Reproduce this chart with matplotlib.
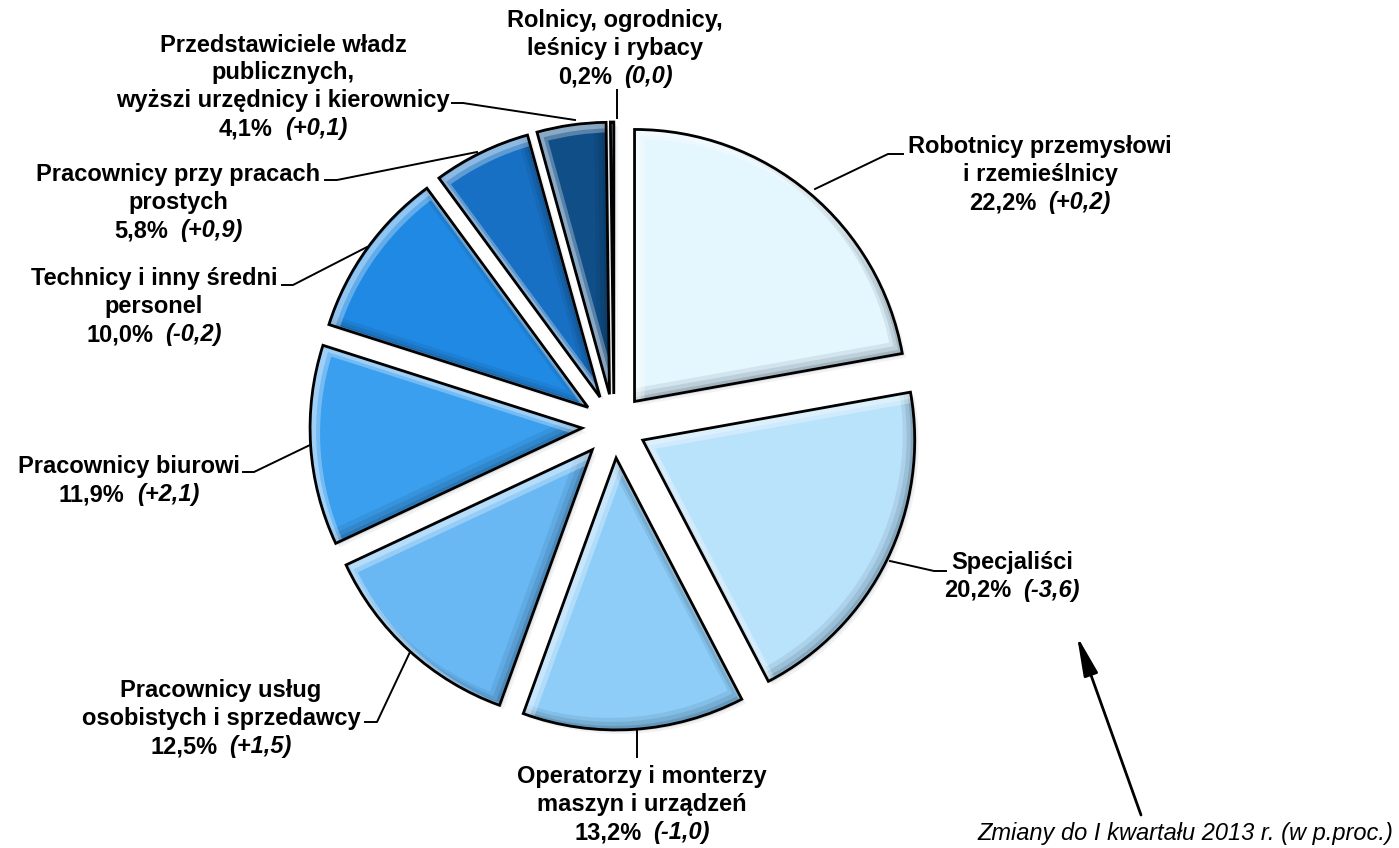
import matplotlib
matplotlib.use("Agg")
import matplotlib.pyplot as plt
import matplotlib.patches as mpatches

# dane: struktura pracujących wg grup zawodów (%), zmiany w p.proc.
categories = [
    "Robotnicy przemysłowi\ni rzemieślnicy",
    "Specjaliści",
    "Operatorzy i monterzy\nmaszyn i urządzeń",
    "Pracownicy usług\nosobistych i sprzedawcy",
    "Pracownicy biurowi",
    "Technicy i inny średni\npersonel",
    "Pracownicy przy pracach\nprostych",
    "Przedstawiciele władz\npublicznych,\nwyższi urzędnicy i kierownicy",
    "Rolnicy, ogrodnicy,\nleśnicy i rybacy",
]
shares = [22.2, 20.2, 13.2, 12.5, 11.9, 10.0, 5.8, 4.1, 0.2]
changes = [0.2, -3.6, -1.0, 1.5, 2.1, -0.2, 0.9, 0.1, 0.0]
colors = ["#E4F6FE", "#B9E2FB", "#8ECDF8", "#69B8F4", "#3A9FEF",
          "#1F89E3", "#1870C4", "#0F4E87", "#0E4A80"]
note = "Zmiany do I kwartału 2013 r. (w p.proc.)"

W, H = 1399, 848
plt.rcParams['font.family'] = ['Liberation Sans', 'DejaVu Sans']

fig = plt.figure(figsize=(W / 100, H / 100), dpi=100)
ax = fig.add_axes([0, 0, 1, 1])

CX, CY, R = 614, H - 426, 272
wedges, _ = ax.pie(shares, startangle=90, counterclock=False, radius=R,
                   center=(CX, CY), explode=[32] * len(shares), colors=colors,
                   wedgeprops=dict(edgecolor='none', linewidth=0))
ax.set_xlim(0, W)
ax.set_ylim(0, H)
ax.set_aspect('equal')
ax.axis('off')

# cień pod wycinkami
for w in wedges:
    for d, a in [(4, 0.06), (2, 0.10)]:
        s = mpatches.Wedge((w.center[0] + d, w.center[1] - d), w.r, w.theta1, w.theta2,
                           fc='#203040', ec='none', alpha=a, zorder=0.5)
        ax.add_patch(s)
    w.set_zorder(1)

# efekt fazowania (jasny pasek u góry, ciemny gradient u dołu)
for w in wedges:
    x0, y0 = w.center
    for d, a in [(6, 0.08), (4, 0.10), (2, 0.14)]:
        dark = mpatches.Wedge((x0 - d, y0 + d), w.r, w.theta1, w.theta2,
                              fc='none', ec='#0a1a2a', lw=2 * d * 0.72, alpha=a, zorder=1.2)
        ax.add_patch(dark)
        dark.set_clip_path(w)
    for d, a in [(5, 0.30), (3, 0.30)]:
        light = mpatches.Wedge((x0 + d, y0 - d), w.r, w.theta1, w.theta2,
                               fc='none', ec='white', lw=2 * d * 0.72, alpha=a, zorder=1.3)
        ax.add_patch(light)
        light.set_clip_path(w)
    edge = mpatches.Wedge(w.center, w.r, w.theta1, w.theta2, fc='none',
                          ec='black', lw=2.0, zorder=1.5)
    ax.add_patch(edge)

# etykiety
FS = 17
LINE = 28
renderer = fig.canvas.get_renderer()

label_pos = [(1040, 145), (1012, 560), (642, 775), (221, 689), (129, 465),
             (154, 277), (178, 173), (283, 43), (615, 19)]


def fmt(v):
    return f"{v:.1f}".replace('.', ',')


def put_label(cx, yc, name, share, change):
    lines = name.split('\n')
    for k, line in enumerate(lines):
        ax.text(cx, H - (yc + k * LINE) - 8.5, line, ha='center', va='baseline',
                fontsize=FS, fontweight='bold')
    yb = H - (yc + len(lines) * LINE) - 8.5
    sign = '+' if change > 0 else ''
    t1 = ax.text(0, yb, fmt(share) + '%', ha='left', va='baseline',
                 fontsize=FS, fontweight='bold')
    t2 = ax.text(0, yb, f"({sign}{fmt(change)})", ha='left', va='baseline',
                 fontsize=FS, fontweight='bold', style='italic')
    w1 = t1.get_window_extent(renderer).width
    w2 = t2.get_window_extent(renderer).width
    gap = 12
    left = cx - (w1 + gap + w2) / 2
    t1.set_x(left)
    t2.set_x(left + w1 + gap)


for (cx, yc), name, s, c in zip(label_pos, categories, shares, changes):
    put_label(cx, yc, name, s, c)

# linie odniesienia
leaders = [
    [(903, 154), (888, 154), (815, 189)],
    [(946, 571), (934, 571), (890, 561)],
    [(637, 757), (637, 730)],
    [(365, 722), (377, 722), (410, 652)],
    [(243, 472), (254, 472), (310, 445)],
    [(282, 285), (293, 285), (367, 247)],
    [(325, 180), (337, 180), (477, 152)],
    [(452, 103), (463, 103), (575, 120)],
    [(617, 90), (617, 118)],
]
for pts in leaders:
    xs = [p[0] for p in pts]
    ys = [H - p[1] for p in pts]
    ax.plot(xs, ys, color='black', lw=1.4, zorder=2)

# strzałka i opis
ax.annotate('', xy=(1077, H - 636), xytext=(1141, H - 815),
            arrowprops=dict(arrowstyle='-|>,head_length=1.2,head_width=0.22',
                            color='black', lw=2, mutation_scale=20,
                            shrinkA=0, shrinkB=0))
ax.text(1393, H - 832 - 8, note, ha='right', va='baseline', fontsize=17,
        style='italic')

fig.savefig('out.png', dpi=100)
